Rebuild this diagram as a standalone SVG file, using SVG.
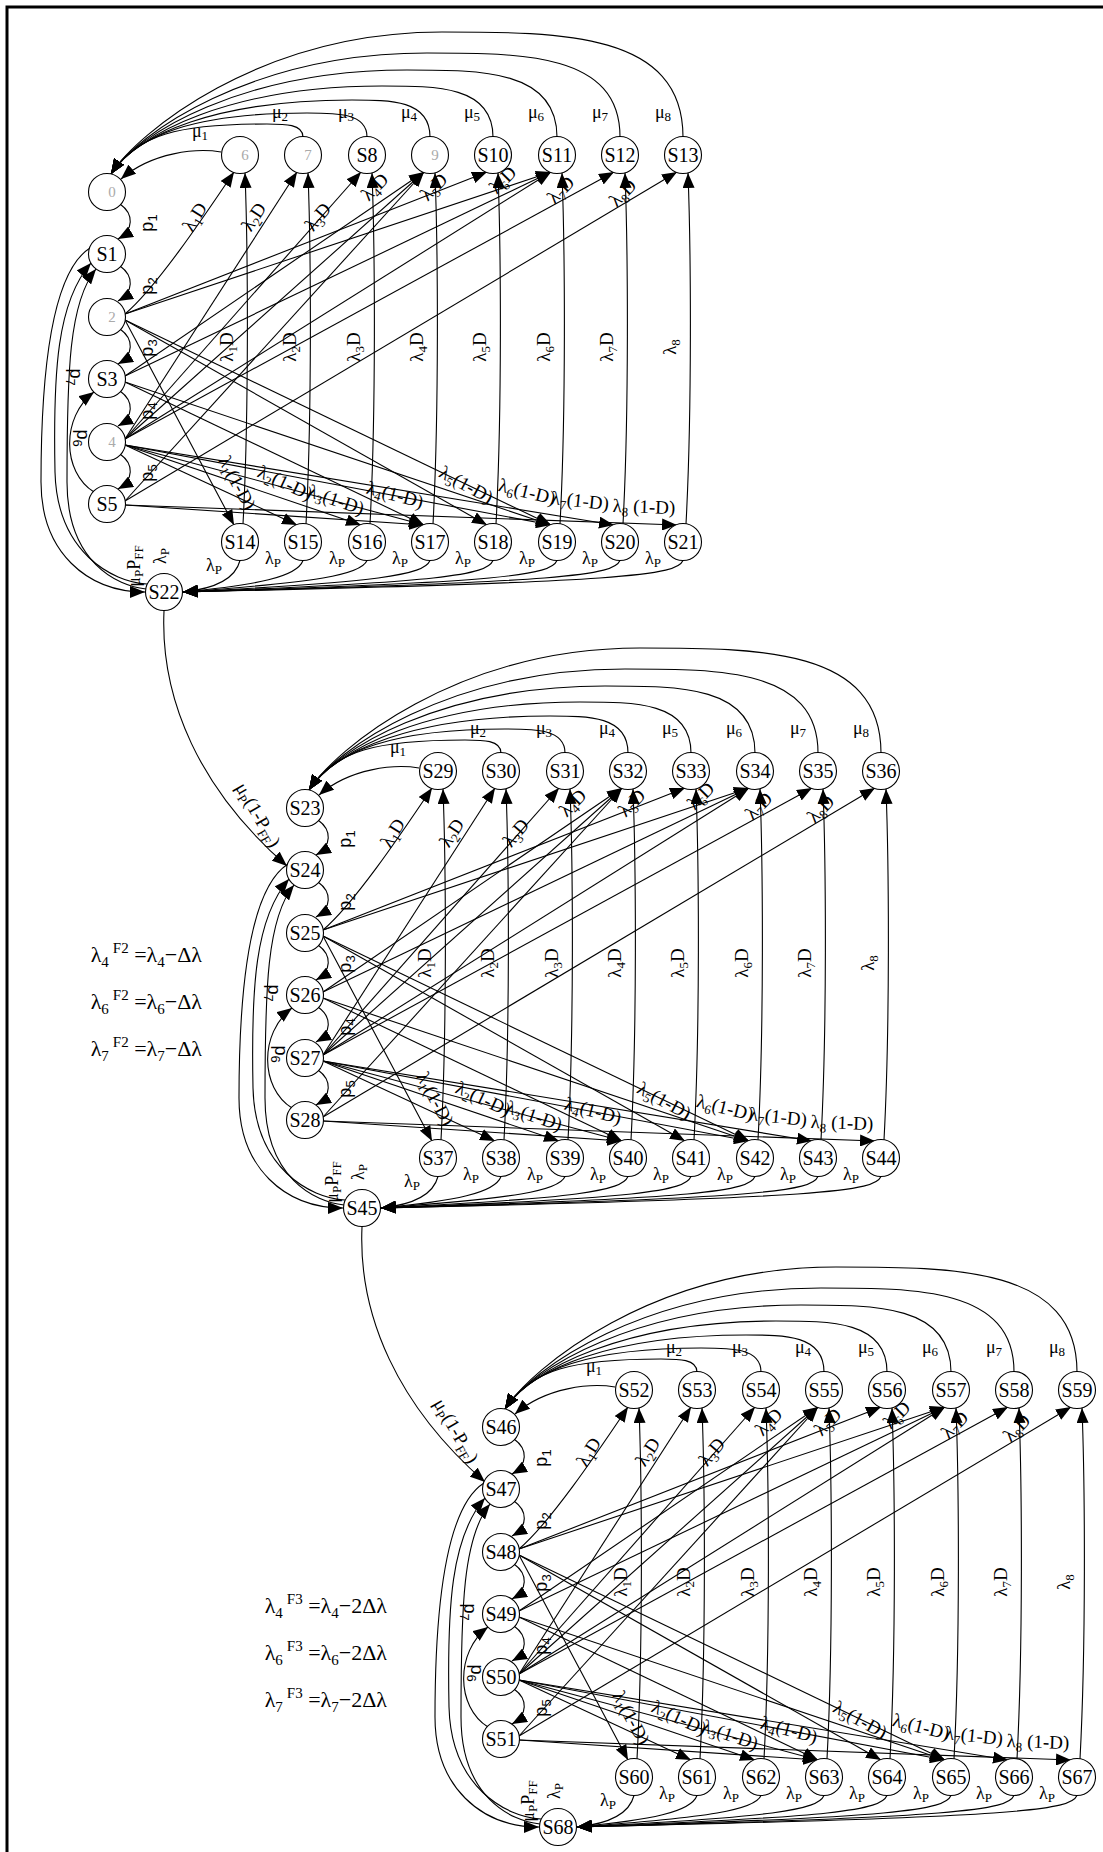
<svg xmlns="http://www.w3.org/2000/svg" xmlns:xlink="http://www.w3.org/1999/xlink" width="1103" height="1852" viewBox="0 0 1103 1852">
<style>
.n circle{fill:#fff;stroke:#000;stroke-width:1.1}
.n text{font-family:"Liberation Serif",serif;font-size:20px;text-anchor:middle;fill:#000}
.n text.fa{fill:#aaa;font-size:15px}
.e{fill:none;stroke:#000;stroke-width:1.1;marker-end:url(#ah)}
.l{font-family:"Liberation Serif",serif;font-size:19px;text-anchor:middle;fill:#000}
.lv{font-family:"Liberation Serif",serif;font-size:19px;text-anchor:middle;fill:#000}
.m{font-family:"Liberation Serif",serif;font-size:18px;text-anchor:middle;fill:#000}
.p{font-family:"Liberation Sans",sans-serif;font-size:18px;text-anchor:middle;fill:#000}
.s{font-size:13px}
.f{font-family:"Liberation Serif",serif;font-size:22px;text-anchor:end;fill:#000}
.fs{font-size:15px}
</style>
<defs>
<marker id="ah" viewBox="0 0 15 12" refX="15" refY="6" markerWidth="15" markerHeight="12" markerUnits="userSpaceOnUse" orient="auto"><path d="M0,0 L15,6 L0,12 z" fill="#000"/></marker>
<g id="blk">
<path class="e" d="M114,-40 C90,-44 45,-40 14,-13"/>
<path class="e" d="M196,-55 C196,-68 178,-68 160,-68 C72,-68 30,-58 4,-18"/>
<path class="e" d="M260,-55 C260,-79 230,-79 200,-79 C90,-79 30,-58 4,-18"/>
<path class="e" d="M323,-55 C323,-92 284,-92 245,-92 C110,-92 30,-58 4,-18"/>
<path class="e" d="M386,-55 C386,-106 330,-106 275,-106 C124,-106 30,-58 4,-18"/>
<path class="e" d="M450,-55 C450,-122 375,-122 300,-122 C135,-122 30,-58 4,-18"/>
<path class="e" d="M513,-55 C513,-139 416,-139 320,-139 C144,-139 30,-58 4,-18"/>
<path class="e" d="M576,-55 C576,-160 455,-160 335,-160 C151,-160 30,-58 4,-18"/>
<path class="e" d="M13,12 C27,22 27,38 11,47"/>
<path class="e" d="M13,74 C27,84 27,100 11,109"/>
<path class="e" d="M13,137 C27,147 27,163 11,172"/>
<path class="e" d="M13,199 C27,209 27,225 11,234"/>
<path class="e" d="M13,262 C27,272 27,288 11,297"/>
<path class="e" d="M-13,300 C-45,280 -46,225 -13,200"/>
<path class="e" d="M-17,56 C-55,80 -66,180 -66,290 C-66,360 -20,400 38,400"/>
<path class="e" d="M40,392 C5,390 -50,360 -52,280 C-54,180 -50,110 -16,71"/>
<path class="e" d="M39,397 C10,394 -40,370 -40,290 C-40,180 -38,110 -11,77"/>
<path class="e" d="M136,332 C142,220 141,60 138,-19"/>
<path class="e" d="M199,332 C205,220 204,60 201,-19"/>
<path class="e" d="M263,332 C269,220 268,60 265,-19"/>
<path class="e" d="M326,332 C332,220 331,60 328,-19"/>
<path class="e" d="M389,332 C395,220 394,60 391,-19"/>
<path class="e" d="M453,332 C459,220 458,60 455,-19"/>
<path class="e" d="M516,332 C522,220 521,60 518,-19"/>
<path class="e" d="M579,332 C585,220 584,60 581,-19"/>
<path class="e" d="M18,122 C50,95 100,20 127,-20"/>
<path class="e" d="M18,247 L190,-20"/>
<path class="e" d="M18,247 L254,-20"/>
<path class="e" d="M18,184 L317,-20"/>
<path class="e" d="M18,247 L317,-20"/>
<path class="e" d="M18,309 L317,-20"/>
<path class="e" d="M18,122 L380,-20"/>
<path class="e" d="M18,122 L444,-20"/>
<path class="e" d="M18,184 L444,-20"/>
<path class="e" d="M18,247 L444,-20"/>
<path class="e" d="M18,247 L507,-20"/>
<path class="e" d="M18,309 L570,-20"/>
<path class="e" d="M18,128 L127,333"/>
<path class="e" d="M18,253 L190,333"/>
<path class="e" d="M18,253 L254,333"/>
<path class="e" d="M18,190 L317,333"/>
<path class="e" d="M18,253 L317,333"/>
<path class="e" d="M18,313 L317,333"/>
<path class="e" d="M18,128 L380,333"/>
<path class="e" d="M18,128 L444,333"/>
<path class="e" d="M18,190 L444,333"/>
<path class="e" d="M18,253 L444,333"/>
<path class="e" d="M18,253 L507,333"/>
<path class="e" d="M18,313 L570,333"/>
<path class="e" d="M133,368.5 C128,388 105,397 76,400"/>
<path class="e" d="M196,368.5 C190,385 150,393 76,400"/>
<path class="e" d="M260,368.5 C254,383 210,390 76,400"/>
<path class="e" d="M323,368.5 C317,383 273,390 76,400"/>
<path class="e" d="M386,368.5 C380,383 336,390 76,400"/>
<path class="e" d="M450,368.5 C444,383 400,390 76,400"/>
<path class="e" d="M513,368.5 C507,383 463,390 76,400"/>
<path class="e" d="M576,368.5 C570,383 526,390 76,400"/>
<text class="m" x="93" y="-55">μ<tspan class="s" dy="3">1</tspan></text>
<text class="m" x="173" y="-74">μ<tspan class="s" dy="3">2</tspan></text>
<text class="m" x="239" y="-74">μ<tspan class="s" dy="3">3</tspan></text>
<text class="m" x="302" y="-74">μ<tspan class="s" dy="3">4</tspan></text>
<text class="m" x="365" y="-74">μ<tspan class="s" dy="3">5</tspan></text>
<text class="m" x="429" y="-74">μ<tspan class="s" dy="3">6</tspan></text>
<text class="m" x="493" y="-74">μ<tspan class="s" dy="3">7</tspan></text>
<text class="m" x="556" y="-74">μ<tspan class="s" dy="3">8</tspan></text>
<text class="p" transform="translate(41,31) rotate(-90)" y="5">p<tspan class="s" dy="4">1</tspan></text>
<text class="p" transform="translate(41,94) rotate(-90)" y="5">p<tspan class="s" dy="4">2</tspan></text>
<text class="p" transform="translate(41,156) rotate(-90)" y="5">p<tspan class="s" dy="4">3</tspan></text>
<text class="p" transform="translate(41,219) rotate(-90)" y="5">p<tspan class="s" dy="4">4</tspan></text>
<text class="p" transform="translate(41,281) rotate(-90)" y="5">p<tspan class="s" dy="4">5</tspan></text>
<text class="p" transform="translate(-25,246) rotate(90)" y="5">p<tspan class="s" dy="4">6</tspan></text>
<text class="p" transform="translate(-32,185) rotate(90)" y="5">p<tspan class="s" dy="4">7</tspan></text>
<text class="l" transform="translate(88,25) rotate(-58)" y="6">λ<tspan class="s" dy="4">1</tspan><tspan dy="-4">D</tspan></text>
<text class="l" transform="translate(147,25) rotate(-57)" y="6">λ<tspan class="s" dy="4">2</tspan><tspan dy="-4">D</tspan></text>
<text class="l" transform="translate(211,25) rotate(-50)" y="6">λ<tspan class="s" dy="4">3</tspan><tspan dy="-4">D</tspan></text>
<text class="l" transform="translate(268,-5) rotate(-45)" y="6">λ<tspan class="s" dy="4">4</tspan><tspan dy="-4">D</tspan></text>
<text class="l" transform="translate(327,-5) rotate(-45)" y="6">λ<tspan class="s" dy="4">5</tspan><tspan dy="-4">D</tspan></text>
<text class="l" transform="translate(396,-12) rotate(-45)" y="6">λ<tspan class="s" dy="4">6</tspan><tspan dy="-4">D</tspan></text>
<text class="l" transform="translate(454,-2) rotate(-45)" y="6">λ<tspan class="s" dy="4">7</tspan><tspan dy="-4">D</tspan></text>
<text class="l" transform="translate(516,1) rotate(-45)" y="6">λ<tspan class="s" dy="4">8</tspan><tspan dy="-4">D</tspan></text>
<text class="lv" transform="translate(120,155) rotate(-90)" y="6">λ<tspan class="s" dy="4">1</tspan><tspan dy="-4">D</tspan></text>
<text class="lv" transform="translate(183,155) rotate(-90)" y="6">λ<tspan class="s" dy="4">2</tspan><tspan dy="-4">D</tspan></text>
<text class="lv" transform="translate(247,155) rotate(-90)" y="6">λ<tspan class="s" dy="4">3</tspan><tspan dy="-4">D</tspan></text>
<text class="lv" transform="translate(310,155) rotate(-90)" y="6">λ<tspan class="s" dy="4">4</tspan><tspan dy="-4">D</tspan></text>
<text class="lv" transform="translate(373,155) rotate(-90)" y="6">λ<tspan class="s" dy="4">5</tspan><tspan dy="-4">D</tspan></text>
<text class="lv" transform="translate(437,155) rotate(-90)" y="6">λ<tspan class="s" dy="4">6</tspan><tspan dy="-4">D</tspan></text>
<text class="lv" transform="translate(500,155) rotate(-90)" y="6">λ<tspan class="s" dy="4">7</tspan><tspan dy="-4">D</tspan></text>
<text class="lv" transform="translate(563,155) rotate(-90)" y="6">λ<tspan class="s" dy="4">8</tspan></text>
<text class="l" transform="translate(130,291) rotate(62)" y="6">λ<tspan class="s" dy="4">1</tspan><tspan dy="-4">(1-D)</tspan></text>
<text class="l" transform="translate(178,291) rotate(25)" y="6">λ<tspan class="s" dy="4">2</tspan><tspan dy="-4">(1-D)</tspan></text>
<text class="l" transform="translate(229,308) rotate(19)" y="6">λ<tspan class="s" dy="4">3</tspan><tspan dy="-4">(1-D)</tspan></text>
<text class="l" transform="translate(288,303) rotate(15)" y="6">λ<tspan class="s" dy="4">4</tspan><tspan dy="-4">(1-D)</tspan></text>
<text class="l" transform="translate(359,293) rotate(29)" y="6">λ<tspan class="s" dy="4">5</tspan><tspan dy="-4">(1-D)</tspan></text>
<text class="l" transform="translate(420,300) rotate(14)" y="6">λ<tspan class="s" dy="4">6</tspan><tspan dy="-4">(1-D)</tspan></text>
<text class="l" transform="translate(473,309) rotate(6)" y="6">λ<tspan class="s" dy="4">7</tspan><tspan dy="-4">(1-D)</tspan></text>
<text class="l" transform="translate(537,315) rotate(2)" y="6">λ<tspan class="s" dy="4">8</tspan><tspan dy="-4"> (1-D)</tspan></text>
<text class="m" x="107" y="379">λ<tspan class="s" dy="3">P</tspan></text>
<text class="m" x="166" y="372">λ<tspan class="s" dy="3">P</tspan></text>
<text class="m" x="230" y="372">λ<tspan class="s" dy="3">P</tspan></text>
<text class="m" x="293" y="372">λ<tspan class="s" dy="3">P</tspan></text>
<text class="m" x="356" y="372">λ<tspan class="s" dy="3">P</tspan></text>
<text class="m" x="420" y="372">λ<tspan class="s" dy="3">P</tspan></text>
<text class="m" x="483" y="372">λ<tspan class="s" dy="3">P</tspan></text>
<text class="m" x="546" y="372">λ<tspan class="s" dy="3">P</tspan></text>
<text class="m" transform="translate(28,374) rotate(-90)" y="5">μ<tspan class="s" dy="3">P</tspan><tspan dy="-3">P</tspan><tspan class="s" dy="3">FF</tspan></text>
<text class="m" transform="translate(54,364) rotate(-90)" y="5">λ<tspan class="s" dy="3">P</tspan></text>
</g>
<g id="inter">
<path class="e" d="M57,419 C53,508 93,598 180,674"/>
<text class="l" transform="translate(151,623) rotate(60)" y="6">μ<tspan class="s" dy="4">P</tspan><tspan dy="-4">(1-P</tspan><tspan class="s" dy="4">FF</tspan><tspan dy="-4">)</tspan></text>
</g>
</defs>
<rect width="1103" height="1852" fill="#fff"/>
<path d="M7,1852 V7 H1103" fill="none" stroke="#000" stroke-width="3"/>
<g id="connectors">
<use xlink:href="#blk" href="#blk" transform="translate(107,192)"/>
<use xlink:href="#blk" href="#blk" transform="translate(305,808)"/>
<use xlink:href="#blk" href="#blk" transform="translate(501,1427)"/>
<use xlink:href="#inter" href="#inter" transform="translate(107,192)"/>
<use xlink:href="#inter" href="#inter" transform="translate(305,808)"/>
</g>
<g id="formulas">
<text class="f" x="202" y="962">λ<tspan class="fs" dy="5">4</tspan><tspan class="fs" dx="4" dy="-14">F2</tspan><tspan dy="9"> =λ</tspan><tspan class="fs" dy="5">4</tspan><tspan dy="-5">−Δλ</tspan></text>
<text class="f" x="202" y="1009">λ<tspan class="fs" dy="5">6</tspan><tspan class="fs" dx="4" dy="-14">F2</tspan><tspan dy="9"> =λ</tspan><tspan class="fs" dy="5">6</tspan><tspan dy="-5">−Δλ</tspan></text>
<text class="f" x="202" y="1056">λ<tspan class="fs" dy="5">7</tspan><tspan class="fs" dx="4" dy="-14">F2</tspan><tspan dy="9"> =λ</tspan><tspan class="fs" dy="5">7</tspan><tspan dy="-5">−Δλ</tspan></text>
<text class="f" x="387" y="1613">λ<tspan class="fs" dy="5">4</tspan><tspan class="fs" dx="4" dy="-14">F3</tspan><tspan dy="9"> =λ</tspan><tspan class="fs" dy="5">4</tspan><tspan dy="-5">−2Δλ</tspan></text>
<text class="f" x="387" y="1660">λ<tspan class="fs" dy="5">6</tspan><tspan class="fs" dx="4" dy="-14">F3</tspan><tspan dy="9"> =λ</tspan><tspan class="fs" dy="5">6</tspan><tspan dy="-5">−2Δλ</tspan></text>
<text class="f" x="387" y="1707">λ<tspan class="fs" dy="5">7</tspan><tspan class="fs" dx="4" dy="-14">F3</tspan><tspan dy="9"> =λ</tspan><tspan class="fs" dy="5">7</tspan><tspan dy="-5">−2Δλ</tspan></text>
</g>
<g id="block1" class="n" transform="translate(107,192)">
<g id="S0"><circle cx="0" cy="0" r="18.5"/><text class="fa" x="5" y="5">0</text></g>
<g id="S1"><circle cx="0" cy="62" r="18.5"/><text x="0" y="69">S1</text></g>
<g id="S2"><circle cx="0" cy="125" r="18.5"/><text class="fa" x="5" y="130">2</text></g>
<g id="S3"><circle cx="0" cy="187" r="18.5"/><text x="0" y="194">S3</text></g>
<g id="S4"><circle cx="0" cy="250" r="18.5"/><text class="fa" x="5" y="255">4</text></g>
<g id="S5"><circle cx="0" cy="312" r="18.5"/><text x="0" y="319">S5</text></g>
<g id="S6"><circle cx="133" cy="-37" r="18.5"/><text class="fa" x="138" y="-32">6</text></g>
<g id="S7"><circle cx="196" cy="-37" r="18.5"/><text class="fa" x="201" y="-32">7</text></g>
<g id="S8"><circle cx="260" cy="-37" r="18.5"/><text x="260" y="-30">S8</text></g>
<g id="S9"><circle cx="323" cy="-37" r="18.5"/><text class="fa" x="328" y="-32">9</text></g>
<g id="S10"><circle cx="386" cy="-37" r="18.5"/><text x="386" y="-30">S10</text></g>
<g id="S11"><circle cx="450" cy="-37" r="18.5"/><text x="450" y="-30">S11</text></g>
<g id="S12"><circle cx="513" cy="-37" r="18.5"/><text x="513" y="-30">S12</text></g>
<g id="S13"><circle cx="576" cy="-37" r="18.5"/><text x="576" y="-30">S13</text></g>
<g id="S14"><circle cx="133" cy="350" r="18.5"/><text x="133" y="357">S14</text></g>
<g id="S15"><circle cx="196" cy="350" r="18.5"/><text x="196" y="357">S15</text></g>
<g id="S16"><circle cx="260" cy="350" r="18.5"/><text x="260" y="357">S16</text></g>
<g id="S17"><circle cx="323" cy="350" r="18.5"/><text x="323" y="357">S17</text></g>
<g id="S18"><circle cx="386" cy="350" r="18.5"/><text x="386" y="357">S18</text></g>
<g id="S19"><circle cx="450" cy="350" r="18.5"/><text x="450" y="357">S19</text></g>
<g id="S20"><circle cx="513" cy="350" r="18.5"/><text x="513" y="357">S20</text></g>
<g id="S21"><circle cx="576" cy="350" r="18.5"/><text x="576" y="357">S21</text></g>
<g id="S22"><circle cx="57" cy="400" r="18.5"/><text x="57" y="407">S22</text></g>
</g>
<g id="block2" class="n" transform="translate(305,808)">
<g id="S23"><circle cx="0" cy="0" r="18.5"/><text x="0" y="7">S23</text></g>
<g id="S24"><circle cx="0" cy="62" r="18.5"/><text x="0" y="69">S24</text></g>
<g id="S25"><circle cx="0" cy="125" r="18.5"/><text x="0" y="132">S25</text></g>
<g id="S26"><circle cx="0" cy="187" r="18.5"/><text x="0" y="194">S26</text></g>
<g id="S27"><circle cx="0" cy="250" r="18.5"/><text x="0" y="257">S27</text></g>
<g id="S28"><circle cx="0" cy="312" r="18.5"/><text x="0" y="319">S28</text></g>
<g id="S29"><circle cx="133" cy="-37" r="18.5"/><text x="133" y="-30">S29</text></g>
<g id="S30"><circle cx="196" cy="-37" r="18.5"/><text x="196" y="-30">S30</text></g>
<g id="S31"><circle cx="260" cy="-37" r="18.5"/><text x="260" y="-30">S31</text></g>
<g id="S32"><circle cx="323" cy="-37" r="18.5"/><text x="323" y="-30">S32</text></g>
<g id="S33"><circle cx="386" cy="-37" r="18.5"/><text x="386" y="-30">S33</text></g>
<g id="S34"><circle cx="450" cy="-37" r="18.5"/><text x="450" y="-30">S34</text></g>
<g id="S35"><circle cx="513" cy="-37" r="18.5"/><text x="513" y="-30">S35</text></g>
<g id="S36"><circle cx="576" cy="-37" r="18.5"/><text x="576" y="-30">S36</text></g>
<g id="S37"><circle cx="133" cy="350" r="18.5"/><text x="133" y="357">S37</text></g>
<g id="S38"><circle cx="196" cy="350" r="18.5"/><text x="196" y="357">S38</text></g>
<g id="S39"><circle cx="260" cy="350" r="18.5"/><text x="260" y="357">S39</text></g>
<g id="S40"><circle cx="323" cy="350" r="18.5"/><text x="323" y="357">S40</text></g>
<g id="S41"><circle cx="386" cy="350" r="18.5"/><text x="386" y="357">S41</text></g>
<g id="S42"><circle cx="450" cy="350" r="18.5"/><text x="450" y="357">S42</text></g>
<g id="S43"><circle cx="513" cy="350" r="18.5"/><text x="513" y="357">S43</text></g>
<g id="S44"><circle cx="576" cy="350" r="18.5"/><text x="576" y="357">S44</text></g>
<g id="S45"><circle cx="57" cy="400" r="18.5"/><text x="57" y="407">S45</text></g>
</g>
<g id="block3" class="n" transform="translate(501,1427)">
<g id="S46"><circle cx="0" cy="0" r="18.5"/><text x="0" y="7">S46</text></g>
<g id="S47"><circle cx="0" cy="62" r="18.5"/><text x="0" y="69">S47</text></g>
<g id="S48"><circle cx="0" cy="125" r="18.5"/><text x="0" y="132">S48</text></g>
<g id="S49"><circle cx="0" cy="187" r="18.5"/><text x="0" y="194">S49</text></g>
<g id="S50"><circle cx="0" cy="250" r="18.5"/><text x="0" y="257">S50</text></g>
<g id="S51"><circle cx="0" cy="312" r="18.5"/><text x="0" y="319">S51</text></g>
<g id="S52"><circle cx="133" cy="-37" r="18.5"/><text x="133" y="-30">S52</text></g>
<g id="S53"><circle cx="196" cy="-37" r="18.5"/><text x="196" y="-30">S53</text></g>
<g id="S54"><circle cx="260" cy="-37" r="18.5"/><text x="260" y="-30">S54</text></g>
<g id="S55"><circle cx="323" cy="-37" r="18.5"/><text x="323" y="-30">S55</text></g>
<g id="S56"><circle cx="386" cy="-37" r="18.5"/><text x="386" y="-30">S56</text></g>
<g id="S57"><circle cx="450" cy="-37" r="18.5"/><text x="450" y="-30">S57</text></g>
<g id="S58"><circle cx="513" cy="-37" r="18.5"/><text x="513" y="-30">S58</text></g>
<g id="S59"><circle cx="576" cy="-37" r="18.5"/><text x="576" y="-30">S59</text></g>
<g id="S60"><circle cx="133" cy="350" r="18.5"/><text x="133" y="357">S60</text></g>
<g id="S61"><circle cx="196" cy="350" r="18.5"/><text x="196" y="357">S61</text></g>
<g id="S62"><circle cx="260" cy="350" r="18.5"/><text x="260" y="357">S62</text></g>
<g id="S63"><circle cx="323" cy="350" r="18.5"/><text x="323" y="357">S63</text></g>
<g id="S64"><circle cx="386" cy="350" r="18.5"/><text x="386" y="357">S64</text></g>
<g id="S65"><circle cx="450" cy="350" r="18.5"/><text x="450" y="357">S65</text></g>
<g id="S66"><circle cx="513" cy="350" r="18.5"/><text x="513" y="357">S66</text></g>
<g id="S67"><circle cx="576" cy="350" r="18.5"/><text x="576" y="357">S67</text></g>
<g id="S68"><circle cx="57" cy="400" r="18.5"/><text x="57" y="407">S68</text></g>
</g>
</svg>
